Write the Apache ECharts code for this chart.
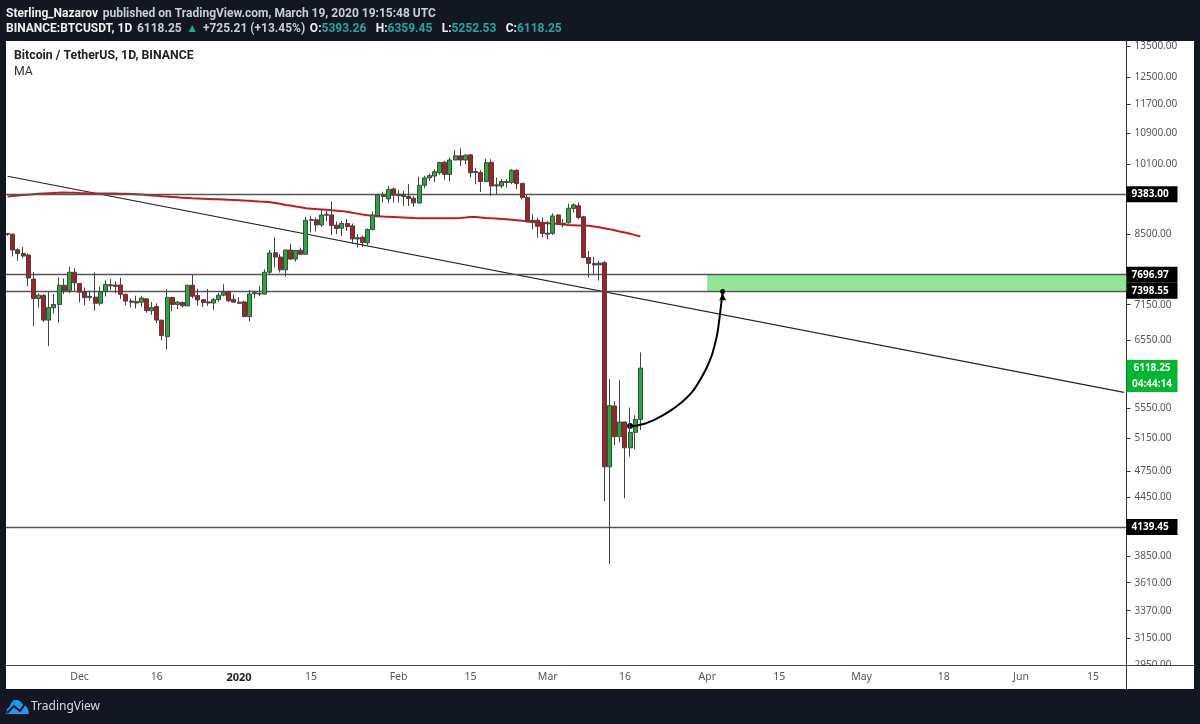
<!DOCTYPE html>
<html>
<head>
<meta charset="utf-8">
<title>BTCUSDT</title>
<style>
	html,body{margin:0;padding:0;background:#131722;}
	#main{width:1200px;height:724px;}
</style>
<script src="https://cdn.jsdelivr.net/npm/echarts@6/dist/echarts.min.js"></script>
</head>
<body>
<div id="main"></div>
<script>
	//[open, close, high, low] per day, first candle is 2019-11-17
	var candles = [
		[8520,8505,8530,8470],[8504,8180,8520,8050],[8185,8110,8215,7965],[8110,8060,8240,8015],
		[8080,7635,8110,7485],[7615,7260,7750,6780],[7260,7320,7350,7100],[7315,6885,7340,6855],
		[6885,7100,7385,6460],[7095,7155,7340,6995],[7155,7500,7650,6840],[7500,7400,7630,7340],
		[7400,7745,7850,7355],[7745,7545,7820,7385],[7535,7375,7535,7190],[7385,7275,7460,7140],
		[7300,7280,7400,7220],[7285,7175,7745,7045],[7175,7385,7480,7135],[7385,7515,7595,7295],
		[7510,7490,7615,7410],[7505,7480,7570,7355],[7505,7335,7640,7250],[7335,7215,7350,7140],
		[7215,7195,7260,7100],[7205,7180,7310,7085],[7195,7270,7310,7115],[7255,7045,7270,7010],
		[7045,7100,7200,6975],[7120,6885,7175,6835],[6885,6630,6885,6550],[6610,7280,7435,6405],
		[7280,7155,7290,7035],[7155,7195,7220,7075],[7190,7130,7205,7100],[7130,7500,7510,7120],
		[7500,7300,7695,7265],[7315,7235,7435,7130],[7240,7190,7250,7110],[7200,7180,7430,7130],
		[7180,7240,7270,7060],[7240,7320,7365,7200],[7320,7380,7520,7300],[7380,7220,7400,7200],
		[7245,7195,7335,7190],[7195,7175,7280,7160],[7200,6945,7220,6930],[6945,7340,7410,6865],
		[7345,7365,7400,7265],[7350,7340,7490,7300],[7340,7745,7800,7335],[7745,8120,8180,7700],
		[8125,8040,8440,7835],[8040,7790,8100,7740],[7790,8180,8185,7660],[8180,8000,8300,7985],
		[8000,8170,8175,7950],[8175,8095,8230,8085],[8095,8800,8875,8085],[8815,8800,8900,8540],
		[8810,8700,8860,8560],[8700,8915,9050,8660],[8930,8910,9005,8785],[8915,8690,9215,8490],
		[8695,8625,8770,8505],[8630,8730,8785,8470],[8730,8665,8825,8570],[8680,8405,8730,8300],
		[8430,8405,8505,8230],[8440,8330,8470,8240],[8325,8600,8625,8265],[8600,8915,8990,8595],
		[8900,9365,9395,8860],[9360,9330,9440,9190],[9275,9495,9575,9175],[9505,9360,9535,9190],
		[9380,9350,9475,9190],[9365,9330,9460,9115],[9330,9285,9615,9115],[9290,9185,9345,9095],
		[9180,9590,9795,9170],[9590,9765,9815,9520],[9765,9820,9870,9695],[9810,9915,9975,9665],
		[9890,10140,10165,9840],[10150,9850,10185,9725],[9850,10205,10265,9680],[10205,10310,10455,10200],
		[10310,10205,10500,10060],[10205,10325,10350,10100],[10335,9890,10350,9775],[9920,9895,10015,9615],
		[9895,9680,9950,9435],[9680,10140,10235,9655],[10150,9575,10225,9345],[9600,9575,9775,9365],
		[9575,9680,9735,9520],[9680,9655,9735,9535],[9655,9950,9975,9615],[9950,9630,9975,9500],
		[9635,9305,9650,9265],[9305,8775,9365,8760],[8800,8770,8930,8610],[8800,8670,8860,8435],
		[8735,8520,8860,8435],[8525,8505,8785,8400],[8520,8895,8950,8490],[8915,8740,8930,8700],
		[8735,8725,8825,8645],[8745,9065,9170,8730],[9060,9140,9170,8970],[9120,8860,9195,8825],
		[8875,8030,8895,8015],[8030,7915,8165,7645],[7915,7885,8045,7705],[7885,7920,7965,7585],
		[7930,4800,7960,4410],[4800,5580,5955,3780],[5575,5170,5640,5060],[5170,5360,5940,5100],
		[5360,5030,5365,4445],[5030,5225,5555,4920],[5225,5393,5450,5010],[5393.26,6118.25,6359.45,5252.53]
	];
	var maValues = [
		9328,9340,9352,9362,9372,9382,9390,9398,9405,9410,9415,9420,9418,9413,9408,9405,
		9402,9400,9397,9397,9397,9397,9395,9390,9385,9380,9375,9365,9355,9345,9335,9328,
		9320,9310,9298,9293,9288,9284,9280,9275,9268,9264,9260,9254,9250,9243,9236,9230,
		9222,9214,9208,9198,9184,9165,9135,9125,9105,9087,9065,9055,9045,9037,9028,9018,
		9010,9000,8985,8962,8945,8925,8910,8896,8888,8880,8875,8870,8865,8860,8855,8850,
		8846,8845,8845,8845,8845,8845,8845,8845,8850,8860,8872,8870,8862,8850,8843,8837,
		8830,8823,8812,8800,8787,8775,8762,8751,8745,8738,8730,8720,8708,8700,8695,8690,
		8685,8680,8665,8648,8630,8610,8588,8560,8540,8515,8485,8455
	];
	//arrow drawn on the chart, starts at 2020-03-17
	var arrowStart = 121;
	var arrowValues = [5306,5310,5323,5340,5367,5398,5433,5473,5519,5568,5623,5688,5763,5868,5994,6143,6343,6679,7387];
	var trendValues = [9806,5765];
	var levelValues = [9383.00,7696.97,7398.55,4139.45];
	var zoneTop = 7696.97;
	var zoneBottom = 7398.55;
	var zoneStart = "2020-04-01";
	var lastPrice = 6118.25;
	var countdown = "04:44:14";
	var yTicks = [13500,12500,11700,10900,10100,8500,7150,6550,5550,5150,4750,4450,3850,3610,3370,3150,2950];
	var xTickLabels = {
		"2019-12-01":"Dec","2019-12-16":"16","2020-01-01":"{y|2020}","2020-01-15":"15",
		"2020-02-01":"Feb","2020-02-15":"15","2020-03-01":"Mar","2020-03-16":"16",
		"2020-04-01":"Apr","2020-04-15":"15","2020-05-01":"May","2020-05-17":"18",
		"2020-06-01":"Jun","2020-06-15":"15"
	};

	var font = "'Noto Sans'";
	var headFont = "Roboto";
	var dark = "#131722";

	//one category per day
	var categories = [];
	for(var i = 0;i<218;i++){
		categories.push(new Date(Date.UTC(2019,10,17+i)).toISOString().slice(0,10));
	}
	var candleData = candles.map(function(c){
		return [c[0],c[1],c[3],c[2]];
	});
	var arrowData = arrowValues.map(function(v,i){
		return [categories[arrowStart+i],v];
	});
	var arrowEnd = arrowData[arrowData.length-1][0];

	var headRich = {
		b:{fontFamily:headFont,fontSize:12,fontWeight:"bold",color:"#f0f0f0"},
		n:{fontFamily:headFont,fontSize:12,color:"#c8ccd4"},
		g:{fontFamily:headFont,fontSize:12,color:"#26a69a"}
	};

	var myChart = echarts.init(document.getElementById("main"),null,{renderer:"canvas"});
	var option = {
		animation:false,
		backgroundColor:dark,
		textStyle:{fontFamily:font},
		title:[{
			left:6,top:5,padding:0,
			text:"{b|Sterling_Nazarov} {n|published on TradingView.com, March 19, 2020 19:15:48 UTC}",
			textStyle:{rich:headRich}
		},{
			left:6,top:20,padding:0,
			text:"{b|BINANCE:BTCUSDT, 1D} {n|6118.25} {g|▲} {n|+725.21 (+13.45%)} {b|O:}{g|5393.26}  {b|H:}{g|6359.45}  {b|L:}{g|5252.53}  {b|C:}{g|6118.25}",
			textStyle:{rich:headRich}
		},{
			left:14,top:50,padding:0,
			text:"Bitcoin / TetherUS, 1D, BINANCE",
			textStyle:{fontFamily:headFont,fontSize:12.3,fontWeight:"bold",color:"#222"}
		},{
			left:14,top:66,padding:0,
			text:"MA",
			textStyle:{fontFamily:headFont,fontSize:12.3,fontWeight:"normal",color:"#333"}
		},{
			left:31,top:701,padding:0,
			text:"TradingView",
			textStyle:{fontFamily:font,fontSize:12,fontWeight:"normal",color:"#d8dbe2"}
		}],
		grid:{left:5,top:40.5,width:1121.5,height:624.5},
		xAxis:{
			type:"category",
			data:categories,
			boundaryGap:true,
			axisLine:{lineStyle:{color:"#444",width:1}},
			axisTick:{
				alignWithLabel:true,
				length:3,
				lineStyle:{color:"#333"},
				interval:function(index,value){return !!xTickLabels[value];}
			},
			axisLabel:{
				interval:function(index,value){return !!xTickLabels[value];},
				formatter:function(value){return xTickLabels[value] || "";},
				color:"#555",
				fontFamily:font,
				fontSize:10.5,
				margin:7,
				hideOverlap:false,
				rich:{y:{fontFamily:font,fontSize:11,fontWeight:"bold",color:"#222"}}
			},
			splitLine:{show:false}
		},
		yAxis:{
			type:"log",
			logBase:10,
			position:"right",
			min:2949,
			max:13690,
			axisLine:{show:true,lineStyle:{color:"#333",width:1}},
			axisTick:{show:true,length:4,lineStyle:{color:"#333"},customValues:yTicks},
			axisLabel:{
				show:true,
				customValues:yTicks,
				formatter:function(v){return Number(v).toFixed(2);},
				color:"#555",
				fontFamily:font,
				fontSize:10,
				margin:8,
				padding:[2,0,0,0],
				showMinLabel:true,
				showMaxLabel:true
			},
			splitLine:{show:false},
			minorTick:{show:false}
		},
		series:[{
			name:"Trend",
			type:"line",
			z:3,
			data:[[categories[0],trendValues[0]],[categories[217],trendValues[1]]],
			symbol:"none",
			silent:true,
			lineStyle:{color:"#222",width:1.2},
			markLine:{
				silent:true,
				symbol:"none",
				animation:false,
				lineStyle:{color:"#555",width:1.4,type:"solid"},
				label:{
					position:"end",
					distance:0,
					formatter:function(p){return Number(p.value).toFixed(2);},
					color:"#fff",
					backgroundColor:"#000",
					fontFamily:font,
					fontSize:10,
					fontWeight:"bold",
					width:41,
					align:"left",
					padding:[3,5,3,5]
				},
				data:levelValues.map(function(v){return {yAxis:v};}).concat([{
					yAxis:lastPrice,
					lineStyle:{color:"rgba(0,0,0,0)",opacity:1},
					label:{
						offset:[5,8],
						backgroundColor:"transparent",
						padding:0,
						formatter:function(){return "{a|"+lastPrice.toFixed(2)+"}\n{a|"+countdown+"}";},
						rich:{a:{
							color:"#fff",backgroundColor:"#00b82b",fontFamily:font,fontSize:10,fontWeight:"bold",
							width:51,height:16,lineHeight:16,align:"center"
						}}
					}
				}])
			},
			markArea:{
				silent:true,
				animation:false,
				itemStyle:{color:"#93e596"},
				data:[[{xAxis:zoneStart,yAxis:zoneTop},{yAxis:zoneBottom}]]
			}
		},{
			name:"MA",
			type:"line",
			z:4,
			data:maValues,
			symbol:"none",
			silent:true,
			lineStyle:{color:"#c21a20",width:2}
		},{
			name:"BTCUSDT",
			type:"candlestick",
			z:5,
			data:candleData,
			barWidth:4.5,
			silent:true,
			itemStyle:{
				color:"#22ab3b",
				color0:"#b01c1f",
				borderColor:"#444",
				borderColor0:"#444",
				borderWidth:1
			}
		},{
			name:"Arrow",
			type:"line",
			z:6,
			data:arrowData,
			symbol:"none",
			smooth:0.25,
			silent:true,
			lineStyle:{color:"#000",width:2},
			markPoint:{
				silent:true,
				animation:false,
				label:{show:false},
				itemStyle:{color:"#000"},
				data:[
					{coord:[categories[arrowStart],arrowValues[0]],symbol:"circle",symbolSize:6},
					{coord:[arrowEnd,arrowValues[arrowValues.length-1]],symbol:"circle",symbolSize:5},
					{coord:[arrowEnd,7290],symbol:"triangle",symbolSize:7}
				]
			}
		}],
		graphic:{elements:[
			{type:"rect",z:-10,silent:true,shape:{x:6,y:41,width:1188,height:648},style:{fill:"#fff"}},
			{type:"rect",z:100,silent:true,shape:{x:0,y:41,width:6,height:648},style:{fill:dark}},
			{type:"rect",z:100,silent:true,shape:{x:1127,y:666,width:67,height:23},style:{fill:"#fff"}},
			{type:"line",z:101,silent:true,shape:{x1:1126.5,y1:665.5,x2:1194,y2:665.5},style:{stroke:"#444",lineWidth:1}},
			{type:"line",z:101,silent:true,shape:{x1:1126.5,y1:665.5,x2:1126.5,y2:689},style:{stroke:"#333",lineWidth:1}},
			//logo
			{type:"polygon",z:101,silent:true,
				shape:{points:[[6,714],[7,709],[10,706],[11,703],[14,700],[18,700],[21,702],[23,705],[26,706],[28,709],[29,714]]},
				style:{fill:"#2196f3"}},
			{type:"polyline",z:102,silent:true,
				shape:{points:[[7,713],[14,706],[20,711],[25,704]]},
				style:{fill:"none",stroke:dark,lineWidth:2}}
		]}
	};
	myChart.setOption(option);
</script>
</body>
</html>
